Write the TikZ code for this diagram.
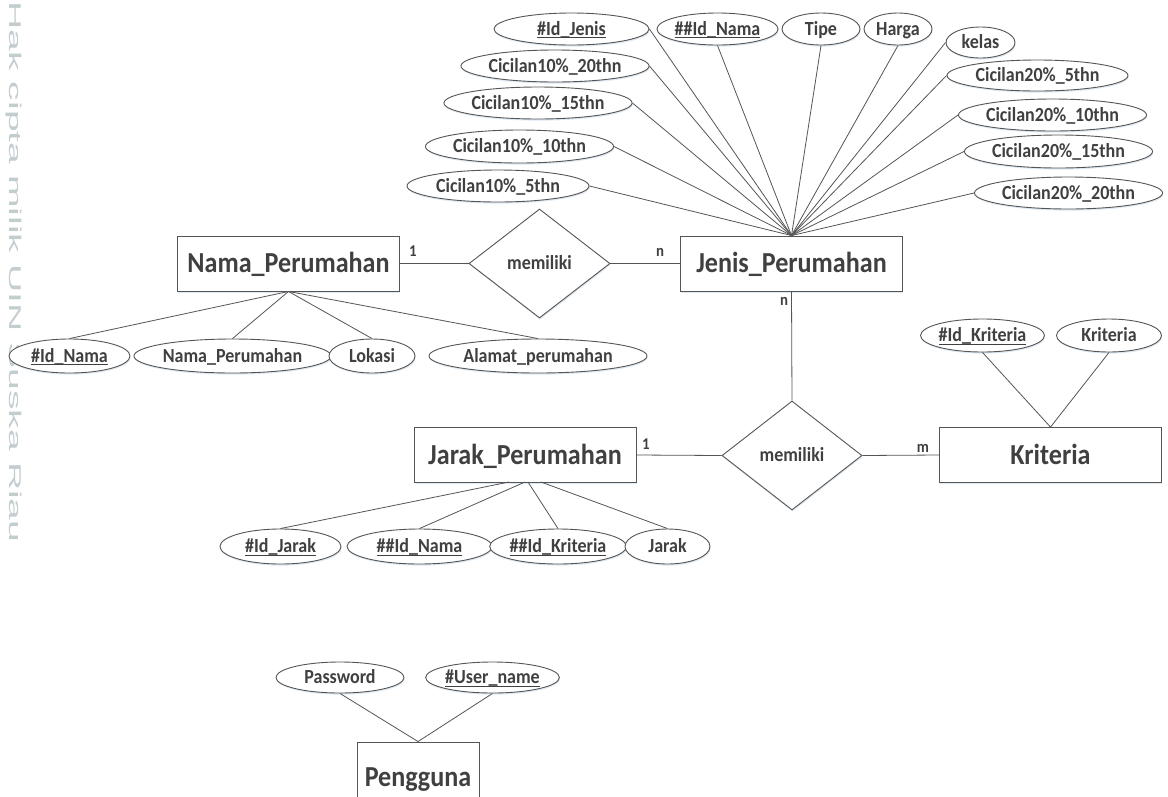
\documentclass[tikz,border=0pt]{standalone}
\usepackage{fontspec}
\setmainfont{Carlito}[FakeStretch=0.9]
\newfontfamily\markfont{Liberation Sans}
\usetikzlibrary{shapes.geometric,shadows}
\definecolor{ink}{HTML}{404040}
\definecolor{edge}{HTML}{555555}
\definecolor{glow}{HTML}{B9CFE6}
\definecolor{marktext}{HTML}{C3CDD0}
% key attributes: underline drawn at the level of the underscore
\newcommand\keyline[1]{\setbox0=\hbox{#1}\rlap{\rule[-2.8pt]{\wd0}{1.1pt}}\box0}
\begin{document}
\begin{tikzpicture}[x=1pt,y=-1pt,
  erbox/.style={draw=edge, line width=0.9pt, fill=white, inner sep=0pt, text=ink,
    drop shadow={shadow xshift=0.6pt, shadow yshift=-1.6pt, fill=glow, opacity=0.45}},
  entity/.style={erbox, rectangle, minimum width=222pt, minimum height=55pt,
    font=\fontsize{29}{33}\selectfont\bfseries, text height=18.7pt, text depth=0pt},
  relation/.style={erbox, diamond, aspect=1.29, minimum width=141pt, minimum height=109pt,
    font=\fontsize{20}{23}\selectfont\bfseries, text height=12.9pt, text depth=0pt},
  attr/.style={erbox, ellipse, minimum height=32pt,
    font=\fontsize{20}{23}\selectfont\bfseries, text height=12.9pt, text depth=0pt},
  card/.style={text=ink, font=\fontsize{16.5}{19}\selectfont\bfseries, anchor=base, inner sep=0pt},
  link/.style={draw=edge, line width=0.8pt}
]
\clip (0,0) rectangle (1168,796);
\fill[white] (0,0) rectangle (1168,796);

% margin note
\node[rotate=-90, xscale=2.3, text=marktext, inner sep=0pt,
  font=\markfont\fontsize{17}{19}\selectfont] (mark) at (14,272) {Hak cipta milik UIN Suska Riau};

% entities
\node[entity] (nama) at (288.5,263.5) {Nama\_Perumahan};
\node[entity] (jenis) at (791.5,263.5) {Jenis\_Perumahan};
\node[entity] (jarak) at (525,455) {Jarak\_Perumahan};
\node[entity] (krit) at (1050.5,455) {Kriteria};
\node[entity, minimum width=122pt, minimum height=70pt] (user) at (418,777) {Pengguna};

% relationships
\node[relation] (rel1) at (539.5,263.5) {memiliki};
\node[relation, minimum width=140pt] (rel2) at (792,455.5) {memiliki};

% attributes of Jenis_Perumahan
\node[attr, minimum width=155pt] (idjenis) at (571.5,29) {\keyline{\#Id\_Jenis}};
\node[attr, minimum width=121pt] (idnamaj) at (717.5,29) {\keyline{\#\#Id\_Nama}};
\node[attr, minimum width=78pt] (tipe) at (821,29) {Tipe};
\node[attr, minimum width=68pt] (harga) at (898,29) {Harga};
\node[attr, minimum width=69pt, minimum height=31pt] (kelas) at (980.5,42.5) {kelas};
\node[attr, minimum width=181pt, minimum height=31pt] (cb5) at (1037.5,75.5) {Cicilan20\%\_5thn};
\node[attr, minimum width=181pt] (cb10) at (1052.5,115) {Cicilan20\%\_10thn};
\node[attr, minimum width=171pt, minimum height=33pt] (cb15) at (1058.5,151.5) {Cicilan20\%\_15thn};
\node[attr, minimum width=169pt] (cb20) at (1068.5,193) {Cicilan20\%\_20thn};
\node[attr, minimum width=182pt] (ca20) at (555,66) {Cicilan10\%\_20thn};
\node[attr, minimum width=182pt] (ca15) at (538,103) {Cicilan10\%\_15thn};
\node[attr, minimum width=183pt, minimum height=33pt] (ca10) at (519.5,146.5) {Cicilan10\%\_10thn};
\node[attr, minimum width=182pt] (ca5) at (498,186) {Cicilan10\%\_5thn};

% attributes of Nama_Perumahan
\node[attr, minimum width=121pt, minimum height=34pt] (idnama) at (69.5,356) {\keyline{\#Id\_Nama}};
\node[attr, minimum width=181pt, minimum height=34pt] (namaat) at (232.5,356) {Nama\_Perumahan};
\node[attr, minimum width=86pt, minimum height=34pt] (lokasi) at (372,356) {Lokasi};
\node[attr, minimum width=218pt, minimum height=34pt] (alamat) at (538,356) {Alamat\_perumahan};

% attributes of Kriteria
\node[attr, minimum width=121pt, minimum height=33pt] (idkrit) at (982.5,335.5) {\keyline{\#Id\_Kriteria}};
\node[attr, minimum width=105pt, minimum height=33pt] (kritat) at (1109,335.5) {Kriteria};

% attributes of Jarak_Perumahan
\node[attr, minimum width=121pt, minimum height=35pt] (idjarak) at (280.5,546.5) {\keyline{\#Id\_Jarak}};
\node[attr, minimum width=145pt, minimum height=35pt] (fknama) at (419.5,546.5) {\keyline{\#\#Id\_Nama}};
\node[attr, minimum width=124pt, minimum height=35pt] (fkkrit) at (558,546.5) {\keyline{\#\#Id\_Kriteria}};
\node[attr, minimum width=85pt, minimum height=35pt] (jarakat) at (667.5,546.5) {Jarak};

% attributes of Pengguna
\node[attr, minimum width=128pt, minimum height=31pt] (pass) at (340,677.5) {Password};
\node[attr, minimum width=127pt, minimum height=31pt] (uname) at (492.5,677.5) {\keyline{\#User\_name}};

% attribute links
\foreach \n/\a in {idjenis/east, idnamaj/south, tipe/south, harga/south, kelas/west,
  cb5/west, cb10/west, cb15/west, cb20/west, ca20/east, ca15/east, ca10/east, ca5/east}
  \draw[link] (\n.\a) -- (jenis.north);
\foreach \n in {idnama, namaat, lokasi, alamat}
  \draw[link] (\n.north) -- (nama.south);
\foreach \n in {idkrit, kritat}
  \draw[link] (\n.south) -- (krit.north);
\foreach \n in {pass, uname}
  \draw[link] (\n.south) -- (user.north);
\coordinate (ja) at (509,482);
\coordinate (jb) at (525,482);
\coordinate (jc) at (528,482);
\coordinate (jd) at (541,482);
\draw[link] (idjarak.north) -- (ja);
\draw[link] (fknama.north) -- (jb);
\draw[link] (fkkrit.north) -- (jc);
\draw[link] (jarakat.north) -- (jd);

% relationship links
\draw[link] (nama.east) -- (rel1.west);
\draw[link] (rel1.east) -- (jenis.west);
\draw[link] (jenis.south) -- (rel2.north);
\draw[link] (jarak.east) -- (rel2.west);
\draw[link] (rel2.east) -- (krit.west);

% cardinalities
\node[card] (k1) at (413,256) {1};
\node[card] (k2) at (660,256) {n};
\node[card] (k3) at (784,305) {n};
\node[card] (k4) at (646,449) {1};
\node[card] (k5) at (923,452) {m};
\end{tikzpicture}
\end{document}
